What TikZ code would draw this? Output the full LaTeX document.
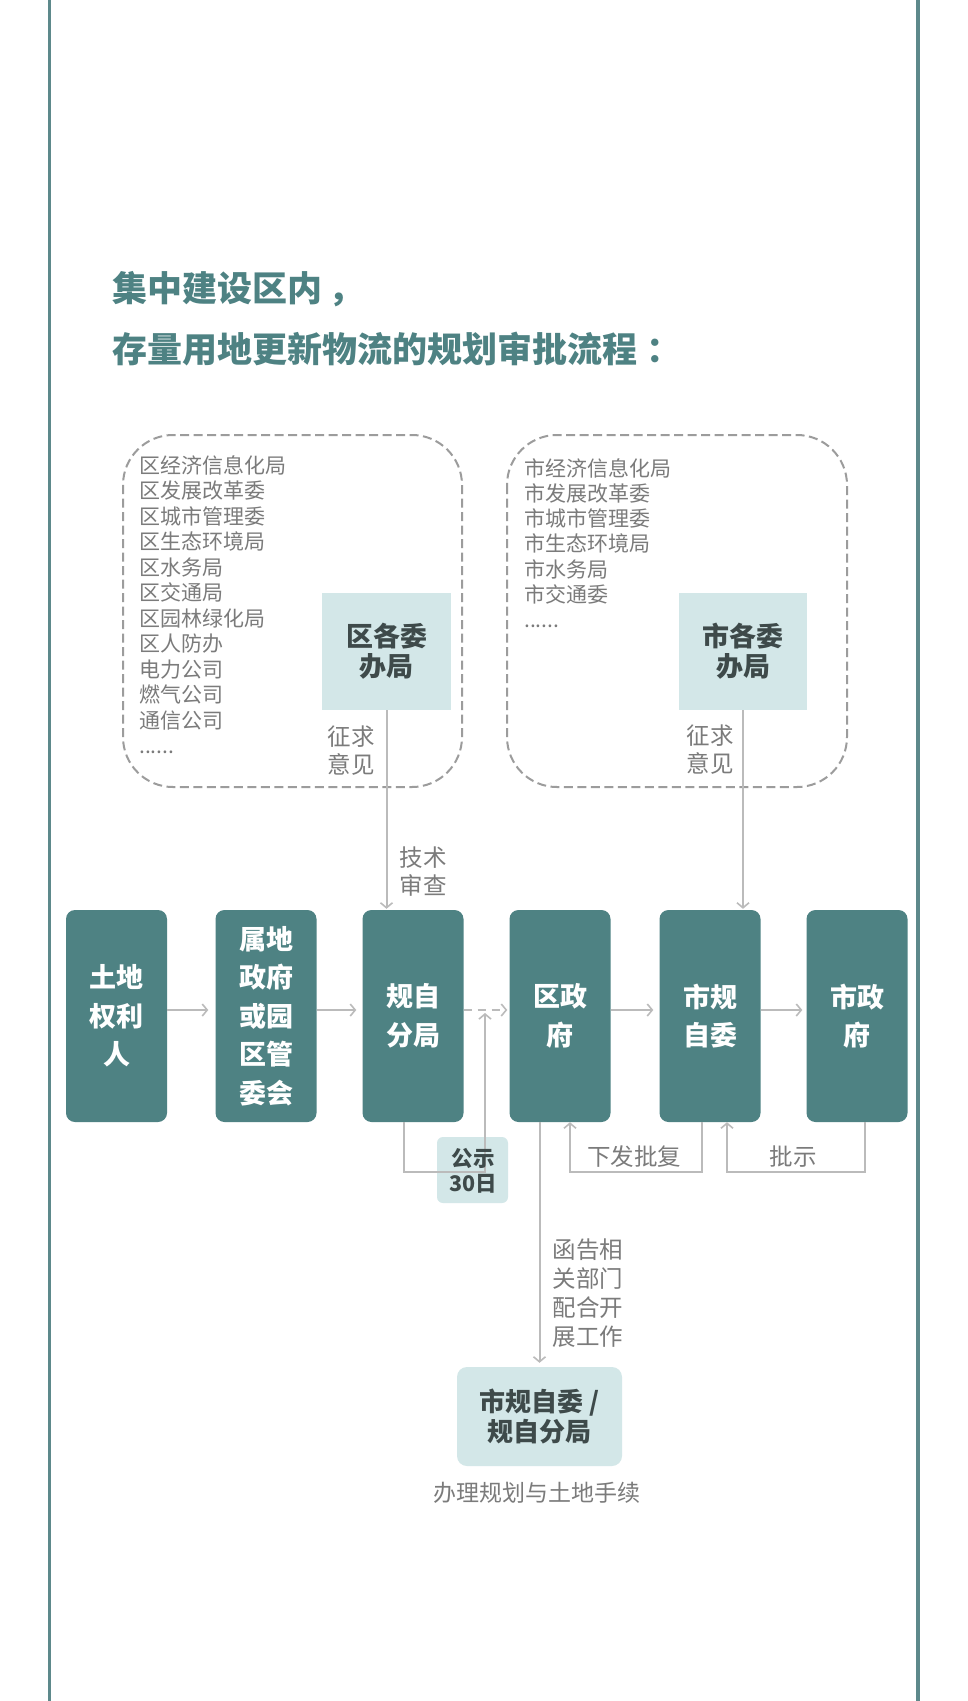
\documentclass[tikz,border=0pt]{standalone}
\usepackage{fontspec}
\setmainfont{Noto Sans CJK SC}
\usetikzlibrary{arrows.meta,calc}
\definecolor{teal1}{HTML}{4E8283}
\definecolor{border1}{HTML}{5D898B}
\definecolor{light1}{HTML}{D3E7E8}
\definecolor{dark1}{HTML}{3E4A4A}
\definecolor{gray1}{HTML}{7B7B7B}
\definecolor{conn1}{HTML}{BBBBBB}
\definecolor{dash1}{HTML}{9C9C9C}
\newcommand\mydotsix{.\kern0pt.\kern0pt.\kern0pt.\kern0pt.\kern0pt.}
\tikzset{
  mainbox/.style={fill=teal1, rounded corners=9pt, minimum width=101pt, minimum height=212pt, inner sep=0pt,
    text=white, font=\bfseries\fontsize{27}{38.5}\selectfont, align=center},
  lightbox/.style={fill=light1, inner sep=0pt, text=dark1, font=\bfseries\fontsize{27}{30}\selectfont, align=center},
  graylabel/.style={text=gray1, inner sep=0pt, font=\fontsize{23.5}{28}\selectfont, align=left},
  listitem/.style={text=gray1, inner sep=0pt, anchor=base west, font=\fontsize{21}{25}\selectfont},
  conn/.style={draw=conn1, line width=2pt, -{Straight Barb[length=5pt,width=12pt,line width=1.6pt]}},
  groupbox/.style={draw=dash1, line width=2pt, dash pattern=on 9pt off 4.5pt, rounded corners=50pt},
  titletext/.style={text=teal1, inner sep=0pt, anchor=base west, font=\bfseries\fontsize{35}{40}\selectfont}
}
\begin{document}
\begin{tikzpicture}[x=1pt,y=-1pt]
\useasboundingbox (0,0) rectangle (968,1701);
\fill[white] (0,0) rectangle (968,1701);
% side borders
\draw[border1, line width=3.5pt] (49.5,0) -- (49.5,1701);
\draw[border1, line width=3.5pt] (918,0) -- (918,1701);

% title
\node[titletext] (t1) at (112,301) {集中建设区内\kern6pt，};
\node[titletext] (t2) at (112,362) {存量用地更新物流的规划审批流程\kern9pt：};

% group boxes
\draw[groupbox] (123,435) rectangle (462,787);
\draw[groupbox] (507,435) rectangle (847,787);

% left list
\foreach \t [count=\i from 0] in {区经济信息化局,区发展改革委,区城市管理委,区生态环境局,区水务局,区交通局,区园林绿化局,区人防办,电力公司,燃气公司,通信公司,\mydotsix}
  \node[listitem] (ll\i) at (139,{473+\i*25.5}) {\t};
% right list
\foreach \t [count=\i from 0] in {市经济信息化局,市发展改革委,市城市管理委,市生态环境局,市水务局,市交通委,\mydotsix}
  \node[listitem] (rl\i) at (524,{476+\i*25.3}) {\t};

% light boxes
\node[lightbox, minimum width=129pt, minimum height=117pt] (qu) at (386.5,651.5) {区各委\\办局};
\node[lightbox, minimum width=128pt, minimum height=117pt] (shi) at (743,651.5) {市各委\\办局};

\node[graylabel] (zq1) at (351,751) {征求\\意见};
\node[graylabel] (zq2) at (710,750) {征求\\意见};
\node[graylabel] (js) at (423,872) {技术\\审查};

% main boxes
\node[mainbox] (b1) at (116.5,1016) {土地\\权利\\人};
\node[mainbox] (b2) at (266,1016) {属地\\政府\\或园\\区管\\委会};
\node[mainbox] (b3) at (413,1016) {规自\\分局};
\node[mainbox] (b4) at (560,1016) {区政\\府};
\node[mainbox] (b5) at (710,1016) {市规\\自委};
\node[mainbox] (b6) at (857,1016) {市政\\府};

% publicity box
\node[fill=light1, rounded corners=6pt, minimum width=71pt, minimum height=66pt, inner sep=0pt] (gs) at (472.5,1170) {};
\coordinate (gsc) at (485,1172);
\coordinate (gtip) at (485,1013);

% bottom box
\node[lightbox, rounded corners=10pt, minimum width=165pt, minimum height=99pt, font=\bfseries\fontsize{26}{30}\selectfont] (bot) at (539.5,1416.5) {市规自委 /\\规自分局};

% connectors
\draw[conn, shorten >=7pt] ([yshift=6pt]b1.east) -- ([yshift=6pt]b2.west);
\draw[conn, shorten >=6pt] ([yshift=6pt]b2.east) -- ([yshift=6pt]b3.west);
\draw[conn, shorten >=2pt, dash pattern=on 8pt off 6pt] ([yshift=6pt]b3.east) -- ([yshift=6pt]b4.west);
\draw[conn, shorten >=6pt] ([yshift=6pt]b4.east) -- ([yshift=6pt]b5.west);
\draw[conn, shorten >=4pt] ([yshift=6pt]b5.east) -- ([yshift=6pt]b6.west);

\draw[conn, shorten >=1pt] (qu.south) -- (qu.south |- b3.north);
\draw[conn, shorten >=1pt] (shi.south) -- (shi.south |- b5.north);

\draw[conn] ([xshift=-9pt]b3.south) |- (gsc) -- (gtip);
\draw[conn] ([xshift=-8pt]b5.south) -- ++(0,50) -| ([xshift=10pt]b4.south);
\draw[conn] ([xshift=8pt]b6.south) -- ++(0,50) -| ([xshift=17pt]b5.south);
\draw[conn, shorten >=4pt] (bot.north |- b4.south) -- (bot.north);

% publicity text on top
\node[text=dark1, inner sep=0pt, font=\bfseries\fontsize{21.5}{25}\selectfont, align=center] (gst) at (473,1170.5) {公示\\30日};

% labels
\node[graylabel] (xf) at (634,1157) {下发批复};
\node[graylabel] (ps) at (793,1157) {批示};
\node[graylabel, font=\fontsize{23.5}{29}\selectfont] (hg) at (588,1293.5) {函告相\\关部门\\配合开\\展工作};
\node[graylabel, font=\fontsize{23}{28}\selectfont] (bl) at (537,1493) {办理规划与土地手续};
\end{tikzpicture}
\end{document}
